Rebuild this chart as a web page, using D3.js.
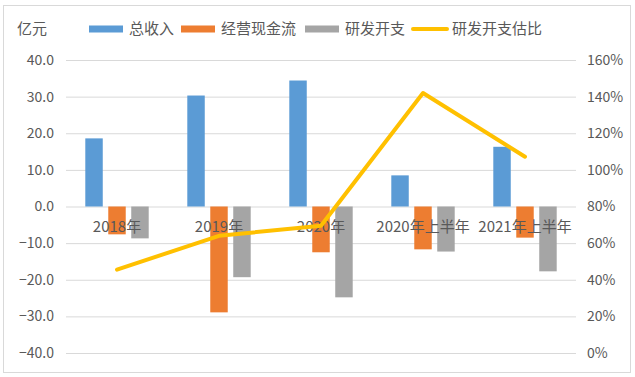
<!DOCTYPE html>
<html>
<head>
<meta charset="utf-8">
<script src="https://cdn.jsdelivr.net/npm/d3@7"></script>
<style>
  body { margin: 0; background: #fff; }
  text { font-family: "Noto Sans CJK SC", sans-serif; fill: #595959; }
</style>
</head>
<body>
<div id="chart"></div>
<script>
// data
const categories = ["2018年", "2019年", "2020年", "2020年上半年", "2021年上半年"];
const seriesNames = ["总收入", "经营现金流", "研发开支"];
const revenue = [18.6, 30.3, 34.4, 8.5, 16.3];
const cashFlow = [-7.6, -28.9, -12.5, -11.7, -8.5];
const rdSpend = [-8.7, -19.3, -24.8, -12.3, -17.7];
const rdRatio = [0.455, 0.64, 0.695, 1.42, 1.072];
const lineName = "研发开支估比";
const leftTicks = [-40, -30, -20, -10, 0, 10, 20, 30, 40];
const rightTicks = [0, 0.2, 0.4, 0.6, 0.8, 1.0, 1.2, 1.4, 1.6];

const colors = ["#5B9BD5", "#ED7D31", "#A5A5A5"];
const lineColor = "#FFC000";

const width = 635;
const height = 377;
const margin = { top: 60, right: 59, bottom: 24, left: 66 };
const plotW = width - margin.left - margin.right;
const plotH = height - margin.top - margin.bottom;

const svg = d3.select("#chart").append("svg")
    .attr("width", width)
    .attr("height", height);

// outer frame
svg.append("rect")
    .attr("x", 3.5).attr("y", 5.5)
    .attr("width", 627).attr("height", 367)
    .attr("fill", "#fff")
    .attr("stroke", "#D9D9D9");

const g = svg.append("g")
    .attr("transform", `translate(${margin.left}, ${margin.top})`);

const x0 = d3.scaleBand().domain(categories).range([0, plotW]);
const x1 = d3.scaleBand().domain(seriesNames).range([0, x0.bandwidth()])
    .paddingInner(0.24).paddingOuter(0.84);
const y = d3.scaleLinear().domain([-40, 40]).range([plotH, 0]);
const yR = d3.scaleLinear().domain([0, 1.6]).range([plotH, 0]);

// left axis + gridlines
const leftAxis = g.append("g")
    .call(d3.axisLeft(y).tickValues(leftTicks).tickFormat(d3.format(".1f"))
        .tickSize(-plotW).tickPadding(12));
leftAxis.select(".domain").remove();
leftAxis.selectAll("line").attr("stroke", "#D9D9D9");
leftAxis.selectAll("text").style("font-size", "14px").attr("fill", "#595959");

// right axis
const rightAxis = g.append("g")
    .attr("transform", `translate(${plotW}, 0)`)
    .call(d3.axisRight(yR).tickValues(rightTicks).tickFormat(d3.format(".0%"))
        .tickSize(0).tickPadding(11));
rightAxis.select(".domain").remove();
rightAxis.selectAll("text").style("font-size", "14px").attr("fill", "#595959");

// bars
const barData = categories.map((c, i) => ({
    cat: c,
    values: [revenue[i], cashFlow[i], rdSpend[i]]
}));

const groups = g.selectAll(".grp")
    .data(barData)
    .enter().append("g")
    .attr("class", "grp")
    .attr("transform", d => `translate(${x0(d.cat)}, 0)`);

groups.selectAll("rect")
    .data(d => d.values.map((v, j) => ({ name: seriesNames[j], v: v, j: j })))
    .enter().append("rect")
    .attr("x", d => x1(d.name))
    .attr("y", d => y(Math.max(0, d.v)))
    .attr("width", x1.bandwidth())
    .attr("height", d => Math.abs(y(d.v) - y(0)))
    .attr("fill", d => colors[d.j]);

// category labels under the zero line
g.selectAll(".cat")
    .data(categories)
    .enter().append("text")
    .attr("class", "cat")
    .attr("x", d => x0(d) + x0.bandwidth() / 2)
    .attr("y", y(0) + 20)
    .attr("dy", "0.35em")
    .attr("text-anchor", "middle")
    .style("font-size", "15px")
    .text(d => d);

// ratio line
const line = d3.line()
    .x((d, i) => x0(categories[i]) + x0.bandwidth() / 2)
    .y(d => yR(d));

g.append("path")
    .datum(rdRatio)
    .attr("fill", "none")
    .attr("stroke", lineColor)
    .attr("stroke-width", 4)
    .attr("stroke-linejoin", "round")
    .attr("stroke-linecap", "round")
    .attr("d", line);

// unit label
svg.append("text")
    .attr("x", 17).attr("y", 29)
    .attr("dy", "0.35em")
    .style("font-size", "15px")
    .text("亿元");

// legend
const legendItems = [
    { name: seriesNames[0], x: 89, type: "rect", color: colors[0] },
    { name: seriesNames[1], x: 181, type: "rect", color: colors[1] },
    { name: seriesNames[2], x: 305, type: "rect", color: colors[2] },
    { name: lineName, x: 412, type: "line", color: lineColor }
];

const legend = svg.selectAll(".leg")
    .data(legendItems)
    .enter().append("g")
    .attr("class", "leg")
    .attr("transform", d => `translate(${d.x}, 29)`);

legend.filter(d => d.type === "rect").append("rect")
    .attr("x", 0).attr("y", -3.5)
    .attr("width", 34).attr("height", 7)
    .attr("fill", d => d.color);

legend.filter(d => d.type === "line").append("line")
    .attr("x1", 1).attr("x2", 35)
    .attr("stroke", d => d.color)
    .attr("stroke-width", 4)
    .attr("stroke-linecap", "round");

legend.append("text")
    .attr("x", 40)
    .attr("dy", "0.35em")
    .style("font-size", "15px")
    .text(d => d.name);
</script>
</body>
</html>
